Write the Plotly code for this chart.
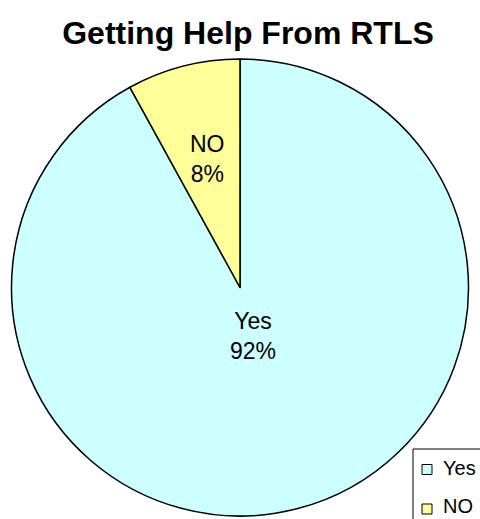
import math
import plotly.graph_objects as go

labels = ["Yes", "NO"]
values = [92, 8]
colors = ["#CCFFFF", "#FFFF99"]

W, H = 480, 519
dom_x = [11 / W, 469 / W]
dom_y = [3 / H, 460 / H]
FONT = "Liberation Sans, Arial"


def px2x(p):
    return p / W


def px2y(p):
    # pixel row (from top) -> paper y (from bottom)
    return 1 - p / H


fig = go.Figure(go.Pie(
    labels=labels,
    values=values,
    marker=dict(colors=colors, line=dict(color="black", width=1.5)),
    sort=False,
    direction="clockwise",
    rotation=0,
    textinfo="none",
    hoverinfo="label+percent",
    domain=dict(x=dom_x, y=dom_y),
    showlegend=False,
))

# Slice labels placed along each slice's bisector
cx = (dom_x[0] + dom_x[1]) / 2 * W
cy = (dom_y[0] + dom_y[1]) / 2 * H
R = min((dom_x[1] - dom_x[0]) * W, (dom_y[1] - dom_y[0]) * H) / 2
total = sum(values)
radial = {"Yes": 0.22, "NO": 0.58}
start = 0.0
for lab, v in zip(labels, values):
    frac = v / total
    mid = (start + frac / 2) * 2 * math.pi
    start += frac
    r = radial[lab] * R
    px = cx + r * math.sin(mid)
    py = cy + r * math.cos(mid)
    fig.add_annotation(
        x=px / W, y=py / H, xref="paper", yref="paper",
        xanchor="center", yanchor="middle",
        text=f"{lab}<br>{round(frac * 100)}%",
        showarrow=False,
        font=dict(family=FONT, size=23, color="black"),
        align="center",
    )

# Legend box in the bottom-right corner
box_left, box_top = 413, 449
fig.add_shape(
    type="rect", xref="paper", yref="paper",
    x0=px2x(box_left), x1=px2x(W + 10), y0=px2y(H + 10), y1=px2y(box_top),
    line=dict(color="black", width=1), fillcolor="white", layer="above",
)
swatch_centers = [469.5, 509]
text_centers = [467.5, 505.5]
for lab, col, ys, yt in zip(labels, colors, swatch_centers, text_centers):
    fig.add_shape(
        type="rect", xref="paper", yref="paper",
        x0=px2x(422), x1=px2x(432), y0=px2y(ys + 5), y1=px2y(ys - 5),
        line=dict(color="black", width=1), fillcolor=col, layer="above",
    )
    fig.add_annotation(
        x=px2x(441), y=px2y(yt), xref="paper", yref="paper",
        xanchor="left", yanchor="middle", showarrow=False,
        text=lab, font=dict(family=FONT, size=20, color="black"),
    )

fig.update_layout(
    width=W, height=H,
    margin=dict(l=0, r=0, t=0, b=0, autoexpand=False),
    paper_bgcolor="white",
    plot_bgcolor="white",
    showlegend=False,
    title=dict(
        text="<b>Getting Help From RTLS</b>",
        x=248 / W, xanchor="center", y=1 - 33 / H, yanchor="middle",
        font=dict(family=FONT, size=32, color="black"),
    ),
)

fig.write_html("out.html")
